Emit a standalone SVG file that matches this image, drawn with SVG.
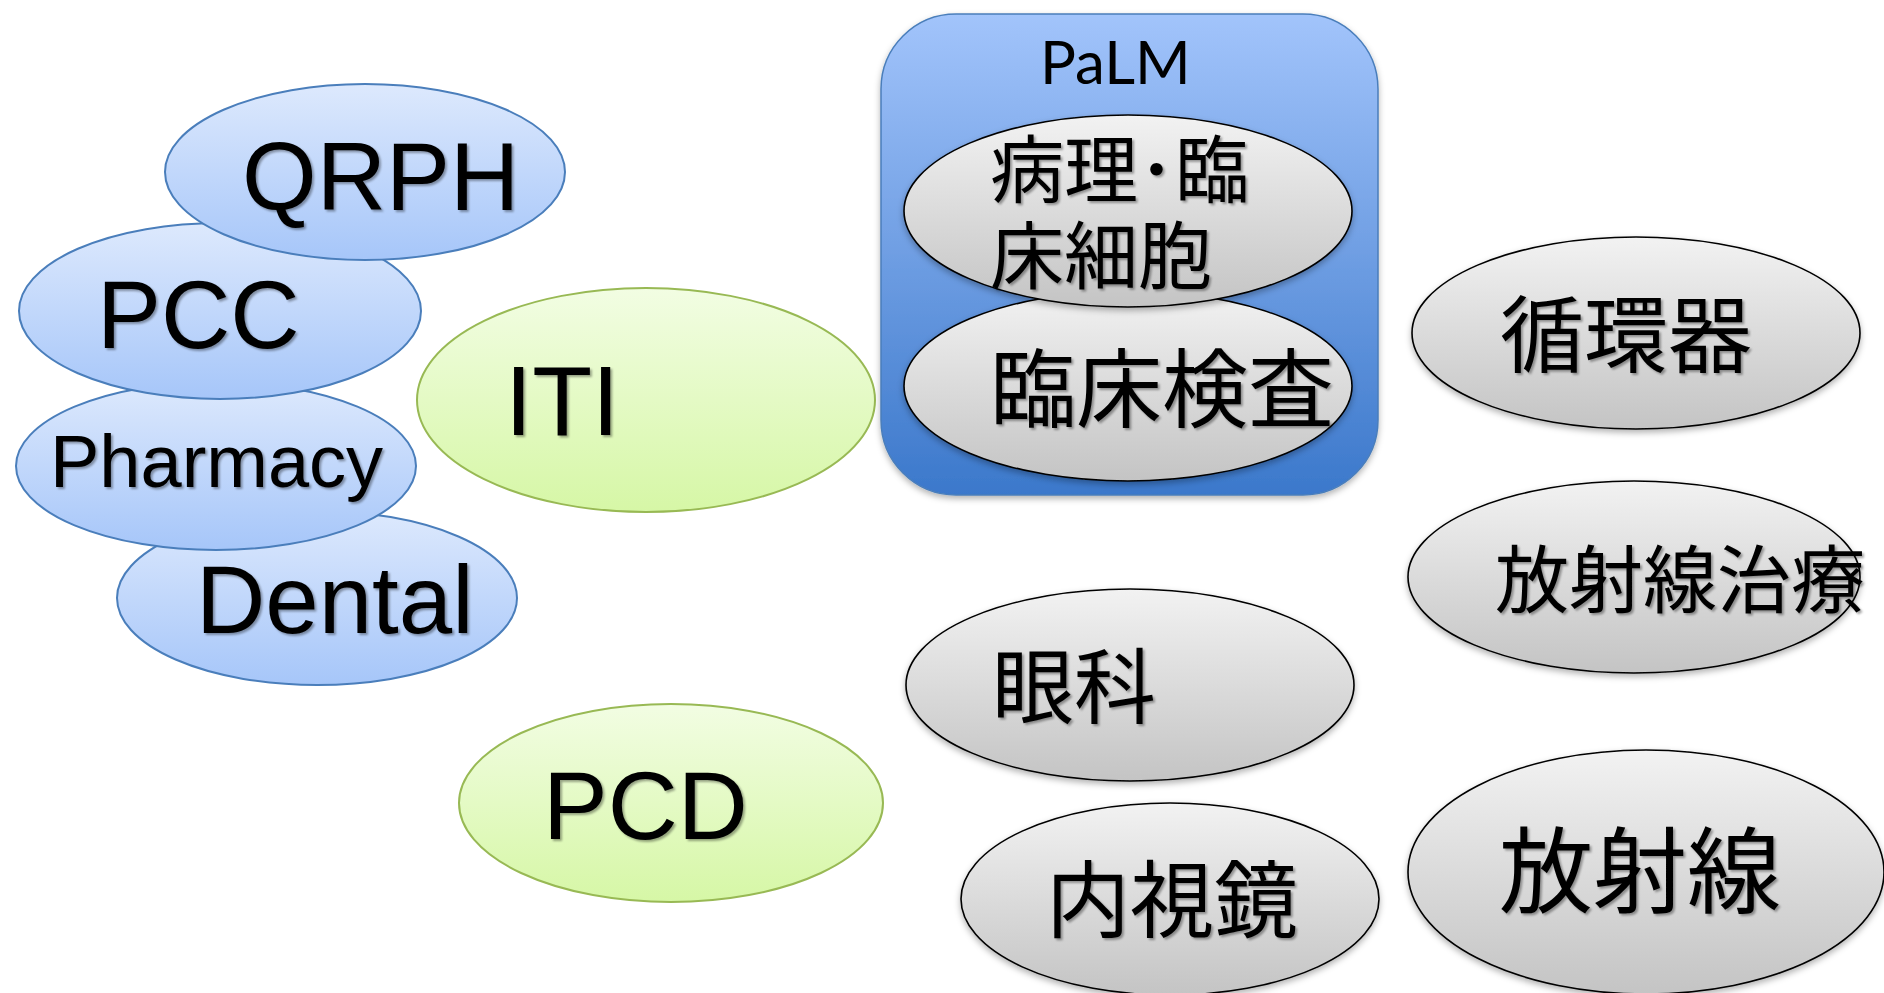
<svg xmlns="http://www.w3.org/2000/svg" width="1884" height="993" viewBox="0 0 1884 993">
  <defs>
    <linearGradient id="gBlue" x1="0" y1="0" x2="0" y2="1">
      <stop offset="0" stop-color="#dde9fd"/>
      <stop offset="1" stop-color="#a6c6f9"/>
    </linearGradient>
    <linearGradient id="gGreen" x1="0" y1="0" x2="0" y2="1">
      <stop offset="0" stop-color="#f2fde3"/>
      <stop offset="1" stop-color="#d6f7a6"/>
    </linearGradient>
    <linearGradient id="gGray" x1="0" y1="0" x2="0" y2="1">
      <stop offset="0" stop-color="#f2f2f2"/>
      <stop offset="1" stop-color="#c4c4c4"/>
    </linearGradient>
    <linearGradient id="gBox" x1="0" y1="0" x2="0" y2="1">
      <stop offset="0" stop-color="#a2c4fb"/>
      <stop offset="1" stop-color="#3b78cb"/>
    </linearGradient>
    <filter id="shShape" x="-10%" y="-10%" width="125%" height="130%">
      <feDropShadow dx="0" dy="3" stdDeviation="3" flood-color="#000" flood-opacity="0.3"/>
    </filter>
    <filter id="shText" x="-5%" y="-10%" width="115%" height="130%">
      <feDropShadow dx="2" dy="2" stdDeviation="1.2" flood-color="#000" flood-opacity="0.35"/>
    </filter>
  </defs>
  <style>
    .blue { fill: url(#gBlue); stroke: #4a7ebb; stroke-width: 2; }
    .green { fill: url(#gGreen); stroke: #98b954; stroke-width: 2; }
    .gray { fill: url(#gGray); stroke: #000; stroke-width: 1.6; filter: url(#shShape); }
    .box { fill: url(#gBox); stroke: #4a7ebb; stroke-width: 1.5; filter: url(#shShape); }
    .lat { font-family: "Liberation Sans", Arial, sans-serif; fill: #000; filter: url(#shText); }
    .jp { font-family: "Noto Sans CJK JP", "Noto Sans CJK SC", sans-serif; fill: #000; filter: url(#shText); }
    .title { font-family: Lato, "Open Sans", sans-serif; fill: #000; }
  </style>
  <rect width="1884" height="993" fill="#fff"/>

  <!-- profile cluster on the left, stacked from bottom to top -->
  <g id="dental">
    <ellipse class="blue" cx="317" cy="598" rx="200" ry="87"/>
    <text class="lat" x="196" y="633" font-size="96">Dental</text>
  </g>
  <g id="pharmacy">
    <ellipse class="blue" cx="216" cy="466" rx="200" ry="84"/>
    <text class="lat" x="50" y="487" font-size="74">Pharmacy</text>
  </g>
  <g id="pcc">
    <ellipse class="blue" cx="220" cy="311" rx="201" ry="88"/>
    <text class="lat" x="97" y="348" font-size="96">PCC</text>
  </g>
  <g id="qrph">
    <ellipse class="blue" cx="365" cy="172" rx="200" ry="88"/>
    <text class="lat" x="242" y="210" font-size="96">QRPH</text>
  </g>

  <g id="iti">
    <ellipse class="green" cx="646" cy="400" rx="229" ry="112"/>
    <text class="lat" x="505" y="435" font-size="98">ITI</text>
  </g>
  <g id="pcd">
    <ellipse class="green" cx="671" cy="803" rx="212" ry="99"/>
    <text class="lat" x="543" y="839" font-size="97">PCD</text>
  </g>

  <!-- PaLM domain with its two members -->
  <g id="palm">
    <rect class="box" x="881" y="14" width="497" height="481" rx="75" ry="75"/>
    <text class="title" x="1040" y="84" font-size="60">PaLM</text>
  </g>
  <g id="rinsho-kensa">
    <ellipse class="gray" cx="1128" cy="386" rx="224" ry="95"/>
    <text class="jp" x="990" y="421" font-size="86">臨床検査</text>
  </g>
  <g id="byori">
    <ellipse class="gray" cx="1128" cy="211" rx="224" ry="96"/>
    <text class="jp" x="990" y="197" font-size="74">病理･臨</text>
    <text class="jp" x="990" y="283" font-size="74">床細胞</text>
  </g>

  <g id="junkanki">
    <ellipse class="gray" cx="1636" cy="333" rx="224" ry="96"/>
    <text class="jp" x="1500" y="366" font-size="84">循環器</text>
  </g>
  <g id="hoshasen-chiryo">
    <ellipse class="gray" cx="1634" cy="577" rx="226" ry="96"/>
    <text class="jp" x="1495" y="607" font-size="74">放射線治療</text>
  </g>
  <g id="ganka">
    <ellipse class="gray" cx="1130" cy="685" rx="224" ry="96"/>
    <text class="jp" x="992" y="717" font-size="82">眼科</text>
  </g>
  <g id="naishikyo">
    <ellipse class="gray" cx="1170" cy="899" rx="209" ry="96"/>
    <text class="jp" x="1046" y="931" font-size="84">内視鏡</text>
  </g>
  <g id="hoshasen">
    <ellipse class="gray" cx="1646" cy="872" rx="238" ry="122"/>
    <text class="jp" x="1499" y="906" font-size="94">放射線</text>
  </g>

  <g id="connectors"/>
</svg>
